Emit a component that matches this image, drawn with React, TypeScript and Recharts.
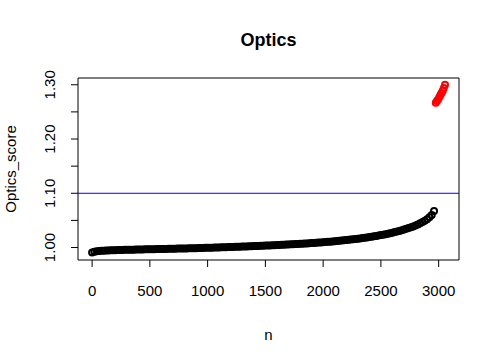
import { ScatterChart, Scatter, XAxis, YAxis, ReferenceLine, ReferenceArea } from "recharts";

// axis ticks
const xTicks = [0, 500, 1000, 1500, 2000, 2500, 3000];
const yTicks = [1.0, 1.05, 1.1, 1.15, 1.2, 1.25, 1.3];
const yLabelled = [1.0, 1.1, 1.2, 1.3];
const threshold = 1.1;

// scores below the threshold, one reading every 20 rows (n = 0, 20, 40, ...)
const blackStep = 20;
const blackScores = [
  0.991, 0.9922, 0.993, 0.9935, 0.9939, 0.9942, 0.9944, 0.9946, 0.9948, 0.995,
  0.9952, 0.9953, 0.9955, 0.9956, 0.9957, 0.9958, 0.9959, 0.996, 0.9961, 0.9962,
  0.9963, 0.9964, 0.9965, 0.9966, 0.9967, 0.9968, 0.9969, 0.997, 0.9971, 0.9972,
  0.9973, 0.9974, 0.9975, 0.9976, 0.9977, 0.9978, 0.9979, 0.998, 0.9981, 0.9982,
  0.9983, 0.9984, 0.9985, 0.9986, 0.9987, 0.9988, 0.999, 0.9991, 0.9992, 0.9994,
  0.9995, 0.9996, 0.9998, 0.9999, 1.0, 1.0002, 1.0003, 1.0005, 1.0006, 1.0008,
  1.0009, 1.0011, 1.0012, 1.0014, 1.0015, 1.0017, 1.0019, 1.002, 1.0022, 1.0024,
  1.0026, 1.0027, 1.0029, 1.0031, 1.0033, 1.0035, 1.0037, 1.0039, 1.0041, 1.0043,
  1.0045, 1.0047, 1.005, 1.0052, 1.0054, 1.0056, 1.0059, 1.0061, 1.0063, 1.0066,
  1.0068, 1.0071, 1.0074, 1.0076, 1.0079, 1.0082, 1.0085, 1.0088, 1.0091, 1.0094,
  1.0098, 1.0101, 1.0105, 1.0108, 1.0112, 1.0116, 1.012, 1.0124, 1.0128, 1.0133,
  1.0137, 1.0142, 1.0147, 1.0152, 1.0157, 1.0162, 1.0168, 1.0174, 1.018, 1.0186,
  1.0192, 1.0199, 1.0206, 1.0213, 1.0221, 1.0229, 1.0237, 1.0246, 1.0255, 1.0264,
  1.0274, 1.0284, 1.0295, 1.0306, 1.0318, 1.0331, 1.0344, 1.0358, 1.0373, 1.0389,
  1.0406, 1.0425, 1.0446, 1.0469, 1.0494, 1.0522, 1.0556, 1.0598, 1.0672,
];

// outliers above the threshold
const redN = [2975, 2985, 2995, 3005, 3015, 3025, 3035, 3045, 3055];
const redScores = [1.267, 1.27, 1.273, 1.277, 1.281, 1.285, 1.289, 1.294, 1.3];

const xMin = -122;
const xMax = 3176;
const yMin = 0.977;
const yMax = 1.3125;

const blackData = blackScores.map((v, i) => ({ n: i * blackStep, score: v }));
const redData = redN.map((n, i) => ({ n, score: redScores[i] }));

const font = "'Liberation Sans', Arial, sans-serif";

function YTick({ x, y, payload }: any) {
  const show = yLabelled.some((v) => Math.abs(v - payload.value) < 1e-9);
  if (!show) return null;
  return (
    <text x={x} y={y} transform={`rotate(-90 ${x} ${y})`} textAnchor="middle" fontSize={15} fill="#000">
      {payload.value.toFixed(2)}
    </text>
  );
}

const blackDot = (p: any) => <circle cx={p.cx} cy={p.cy} r={3} fill="none" stroke="#000" strokeWidth={2} />;
const redDot = (p: any) => <circle cx={p.cx} cy={p.cy} r={3} fill="none" stroke="#ff0000" strokeWidth={2} />;

export default function App() {
  return (
    <div style={{ position: "relative", width: 500, height: 358, background: "#fff", fontFamily: font }}>
      <style>{"body{margin:0}"}</style>
      <ScatterChart width={500} height={358} margin={{ top: 78, right: 41, bottom: 0, left: 0 }}>
        <XAxis
          type="number"
          dataKey="n"
          domain={[xMin, xMax]}
          ticks={xTicks}
          allowDataOverflow
          axisLine={false}
          tickLine={{ stroke: "#000" }}
          tickSize={7}
          tickMargin={18}
          height={98}
          tick={{ fontSize: 15, fill: "#000" }}
          interval={0}
        />
        <YAxis
          type="number"
          dataKey="score"
          domain={[yMin, yMax]}
          ticks={yTicks}
          allowDataOverflow
          axisLine={false}
          tickLine={{ stroke: "#000" }}
          tickSize={7}
          tickMargin={16}
          width={78}
          tick={<YTick />}
          interval={0}
        />
        <ReferenceArea x1={xMin} x2={xMax} y1={yMin} y2={yMax} fill="none" stroke="#000" strokeWidth={1} fillOpacity={0} />
        <Scatter data={blackData} shape={blackDot} isAnimationActive={false} />
        <Scatter data={redData} shape={redDot} isAnimationActive={false} />
        <ReferenceLine y={threshold} stroke="#0000ff" strokeWidth={1} />
      </ScatterChart>
      <svg width={500} height={358} style={{ position: "absolute", left: 0, top: 0, pointerEvents: "none" }}>
        <text x={268.5} y={46} textAnchor="middle" fontSize={18} fontWeight="bold" fill="#000">
          Optics
        </text>
        <text x={268.5} y={340} textAnchor="middle" fontSize={15} fill="#000">
          n
        </text>
        <text x={16} y={169} transform="rotate(-90 16 169)" textAnchor="middle" fontSize={15} fill="#000">
          Optics_score
        </text>
      </svg>
    </div>
  );
}
